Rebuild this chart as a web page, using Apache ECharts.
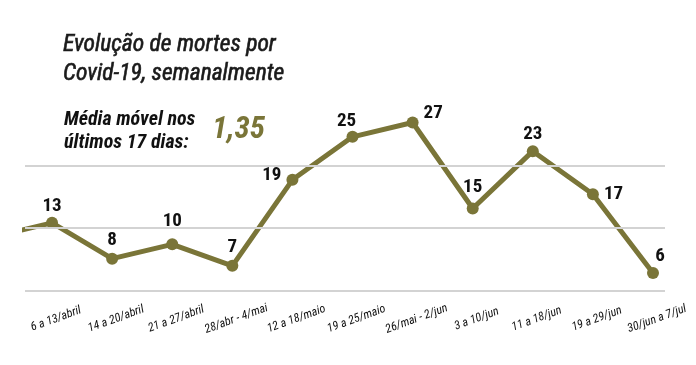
<!DOCTYPE html>
<html><head><meta charset="utf-8">
<script src="https://cdn.jsdelivr.net/npm/echarts@6/dist/echarts.min.js"></script>
<style>html,body{margin:0;padding:0;background:#fff}#c{width:696px;height:365px}</style>
</head><body><div id="c"></div>
<script>
const categories = ['6 a 13/abril','14 a 20/abril','21 a 27/abril','28/abr - 4/mai','12 a 18/maio','19 a 25/maio','26/mai - 2/jun','3 a 10/jun','11 a 18/jun','19 a 29/jun','30/jun a 7/jul'];
const deaths = [13, 8, 10, 7, 19, 25, 27, 15, 23, 17, 6];
const previousWeek = 11;
const movingAverage = '1,35';
const gridValues = [3.5, 12.25, 21];

const FONT = "'Roboto Condensed', 'DejaVu Sans Condensed', sans-serif";
const OLIVE = '#7a7538';

// label placement style per point (style only)
const labelStyle = [
  {position:'top', distance:1},
  {position:'top', distance:3},
  {position:'top', distance:8},
  {position:'top', distance:3},
  {position:'left', offset:[0,-5]},
  {position:'top', offset:[-6,0], distance:0},
  {position:'right', offset:[0,-9]},
  {position:'top', distance:6},
  {position:'top', distance:1},
  {position:'right', distance:5},
  {position:'top', offset:[7,0], distance:1}
];

const lineData = [{value:[-1, previousWeek], symbol:'none', label:{show:false}}]
  .concat(deaths.map((v, i) => ({value:[i, v], label: labelStyle[i]})));

const chart = echarts.init(document.getElementById('c'), null, {renderer:'canvas'});
chart.setOption({
  animation: false,
  backgroundColor: '#fff',
  title: [
    {text: 'Evolução de mortes por\nCovid-19, semanalmente', left: 58, top: 26,
     textStyle: {fontFamily: FONT, fontSize: 23.5, fontStyle: 'italic', fontWeight: 'normal', color: '#1a1a1a', lineHeight: 29,
       textBorderColor: '#1a1a1a', textBorderWidth: 0.6}},
    {text: 'Média móvel nos\núltimos 17 dias:', left: 59, top: 103,
     textStyle: {fontFamily: FONT, fontSize: 20, fontStyle: 'italic', fontWeight: 'bold', color: '#111', lineHeight: 23}},
    {text: movingAverage, left: 207, top: 110,
     textStyle: {fontFamily: FONT, fontSize: 31, fontStyle: 'italic', fontWeight: 'bold', color: OLIVE}}
  ],
  grid: [
    {left: 25, right: 31, top: 101, bottom: 49},
    {left: 56, right: 39, top: 101, bottom: 49}
  ],
  xAxis: [
    {type: 'value', gridIndex: 0, min: -0.45, max: 10.2, show: false},
    {type: 'category', gridIndex: 1, boundaryGap: false, data: categories,
     axisLine: {show: false}, axisTick: {show: false}, splitLine: {show: false},
     axisLabel: {interval: 0, rotate: 20, align: 'center', verticalAlign: 'middle', margin: 3,
       fontFamily: FONT, fontSize: 12, fontStyle: 'italic', color: '#111'}}
  ],
  yAxis: [
    {type: 'value', gridIndex: 0, min: 0, max: 30, show: false},
    {type: 'value', gridIndex: 1, min: 0, max: 1, show: false}
  ],
  series: [
    {type: 'line', xAxisIndex: 0, yAxisIndex: 0, data: [], z: 1, silent: true,
     markLine: {silent: true, symbol: ['none', 'none'], label: {show: false},
       lineStyle: {color: '#d3d3d3', width: 2, type: 'solid'},
       data: gridValues.map(v => ({yAxis: v}))}},
    {type: 'line', xAxisIndex: 0, yAxisIndex: 0, z: 3, data: lineData,
     symbol: 'circle', symbolSize: 12, clip: true,
     lineStyle: {color: OLIVE, width: 5},
     itemStyle: {color: OLIVE},
     label: {show: true, formatter: p => p.value[1], fontFamily: FONT, fontSize: 19, fontWeight: 'bold', color: '#111'}}
  ]
});
</script></body></html>
